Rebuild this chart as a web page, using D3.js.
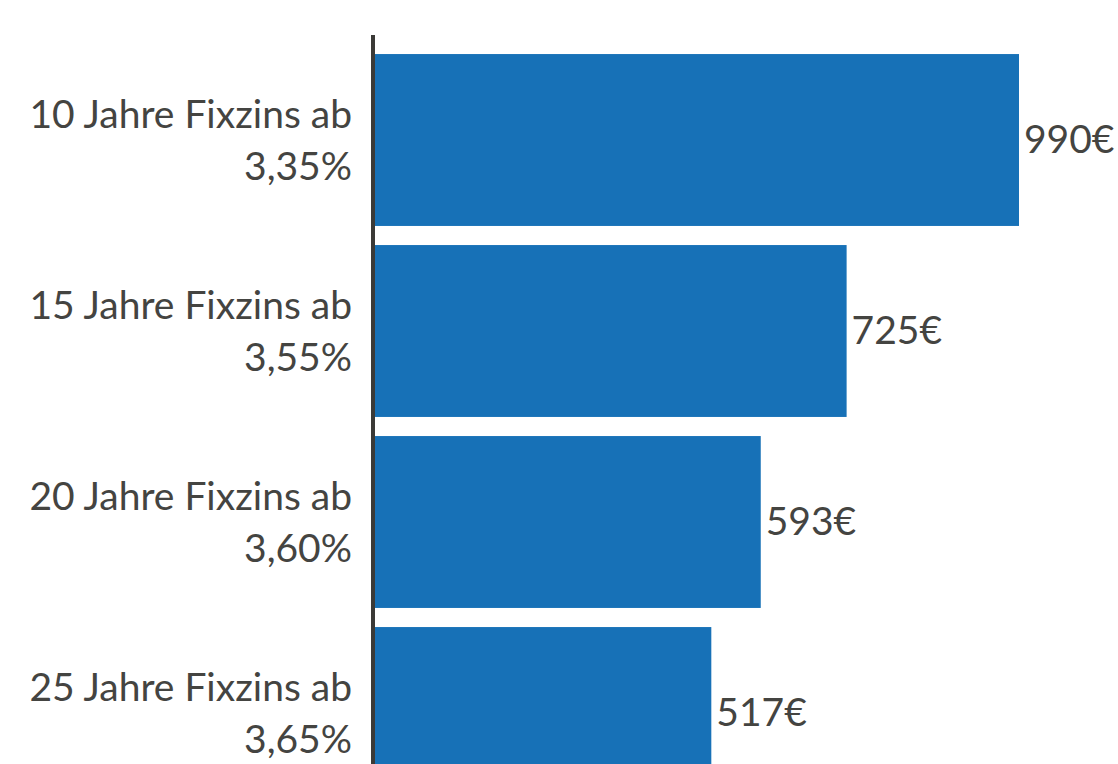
<!DOCTYPE html>
<html>
<head>
<meta charset="utf-8">
<script src="https://cdn.jsdelivr.net/npm/d3@7"></script>
<style>
  body { margin: 0; background: #fff; }
  text { font-family: "Lato", "Noto Sans", sans-serif; fill: #444441; }
</style>
</head>
<body>
<svg id="chart"></svg>
<script>
// Werte
let kategorien = ["10 Jahre Fixzins ab", "15 Jahre Fixzins ab", "20 Jahre Fixzins ab", "25 Jahre Fixzins ab"];
let zinsen = ["3,35%", "3,55%", "3,60%", "3,65%"];
let raten = [990, 725, 593, 517];

let daten = kategorien.map((k, i) => ({ kat: k, zins: zinsen[i], rate: raten[i] }));

let breite = 1118, hoehe = 764;
let x0 = 375;

let misvg = d3.select("#chart")
  .attr("width", breite)
  .attr("height", hoehe);

let x = d3.scaleLinear().domain([0, 990]).range([x0, 1019]);
let y = d3.scaleBand().domain(kategorien).range([44.5, 808.5]).paddingInner(0.1).paddingOuter(0.05);

misvg.selectAll("rect.bar")
  .data(daten)
  .enter()
  .append("rect")
  .attr("class", "bar")
  .attr("x", x(0))
  .attr("y", d => y(d.kat))
  .attr("width", d => x(d.rate) - x(0))
  .attr("height", y.bandwidth())
  .attr("fill", "#1771b7");

// Achsenlinie
misvg.append("rect")
  .attr("x", 371)
  .attr("y", 35)
  .attr("width", 4)
  .attr("height", hoehe - 35)
  .attr("fill", "#3b3a37");

let fs = 39;

let labels = misvg.selectAll("text.kat")
  .data(daten)
  .enter()
  .append("text")
  .attr("class", "kat")
  .attr("text-anchor", "end")
  .style("font-size", fs + "px");

labels.append("tspan")
  .attr("x", 352)
  .attr("y", d => y(d.kat) + y.bandwidth() / 2 - 12)
  .text(d => d.kat);

labels.append("tspan")
  .attr("x", 352)
  .attr("y", d => y(d.kat) + y.bandwidth() / 2 + 40)
  .text(d => d.zins);

misvg.selectAll("text.wert")
  .data(daten)
  .enter()
  .append("text")
  .attr("class", "wert")
  .attr("x", d => x(d.rate) + 5)
  .attr("y", d => y(d.kat) + y.bandwidth() / 2 + 13)
  .style("font-size", fs + "px")
  .text(d => d.rate + "€");
</script>
</body>
</html>
